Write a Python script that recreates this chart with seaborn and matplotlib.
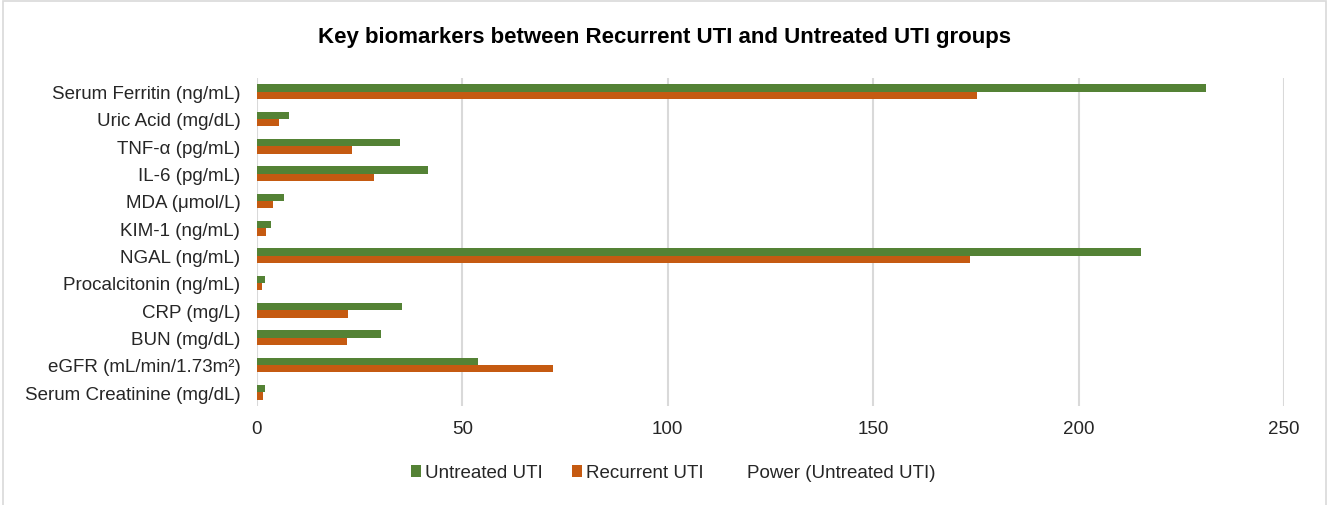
import matplotlib
matplotlib.use("Agg")
import matplotlib.pyplot as plt
import seaborn as sns
import pandas as pd
from matplotlib.patches import Patch, Rectangle
from matplotlib.lines import Line2D

categories = ["Serum Ferritin (ng/mL)", "Uric Acid (mg/dL)", "TNF-α (pg/mL)", "IL-6 (pg/mL)",
              "MDA (μmol/L)", "KIM-1 (ng/mL)", "NGAL (ng/mL)", "Procalcitonin (ng/mL)",
              "CRP (mg/L)", "BUN (mg/dL)", "eGFR (mL/min/1.73m²)", "Serum Creatinine (mg/dL)"]
untreated = [231, 7.9, 34.9, 41.6, 6.5, 3.5, 215.1, 1.9, 35.4, 30.3, 53.9, 1.9]
recurrent = [175.2, 5.4, 23.1, 28.5, 4.0, 2.3, 173.6, 1.2, 22.1, 22.0, 72.0, 1.4]
series = ["Untreated UTI", "Recurrent UTI"]
xticks = [0, 50, 100, 150, 200, 250]

df = pd.DataFrame({
    "Biomarker": categories * 2,
    "Value": untreated + recurrent,
    "Group": [series[0]] * len(categories) + [series[1]] * len(categories),
})

sns.set_theme(style="white")
plt.rcParams["font.family"] = ["Liberation Sans", "DejaVu Sans"]

colors = {"Untreated UTI": "#548235", "Recurrent UTI": "#C55A11"}
text_color = "#262626"

fig = plt.figure(figsize=(13.3, 5.06), dpi=100)
ax = fig.add_axes([257 / 1330, 1 - 407 / 506, (1284 - 257) / 1330, (407 - 79) / 506])

sns.barplot(data=df, y="Biomarker", x="Value", hue="Group", order=categories,
            hue_order=series, palette=colors, orient="h", width=0.54,
            ax=ax, legend=False, saturation=1, linewidth=0)

ax.set_xlim(0, 250)
ax.set_xticks(xticks)
ax.set_xticklabels([str(t) for t in xticks], fontsize=13.5, color=text_color)
ax.tick_params(axis="y", labelsize=13.5, labelcolor=text_color, length=0, pad=12)
ax.tick_params(axis="x", length=0, pad=10)
ax.set_xlabel("")
ax.set_ylabel("")
ax.grid(axis="x", color="#D9D9D9", linewidth=1.5)
ax.set_axisbelow(True)
for s in ax.spines.values():
    s.set_visible(False)

fig.text(0.5, 1 - 38 / 506, "Key biomarkers between Recurrent UTI and Untreated UTI groups",
         ha="center", va="center", fontsize=16, fontweight="bold", color="#000000")

handles = [Patch(facecolor=colors[series[0]], edgecolor="none"),
           Patch(facecolor=colors[series[1]], edgecolor="none"),
           Line2D([], [], color="none")]
labels = [series[0], series[1], "Power (Untreated UTI)"]
leg = fig.legend(handles, labels, loc="center", bbox_to_anchor=(0.5 + 8 / 1330, 1 - 474 / 506), ncol=3,
                 frameon=False, fontsize=13.5, handlelength=0.55, handleheight=0.55,
                 handletextpad=0.2, columnspacing=1.55)
for t in leg.get_texts():
    t.set_color(text_color)

fig.patches.append(Rectangle((3 / 1330, -0.05), (1326 - 3) / 1330, 1.05 - 2 / 506,
                             transform=fig.transFigure, fill=False,
                             edgecolor="#D9D9D9", linewidth=1.2))

fig.savefig("out.png", dpi=100, facecolor="white")
